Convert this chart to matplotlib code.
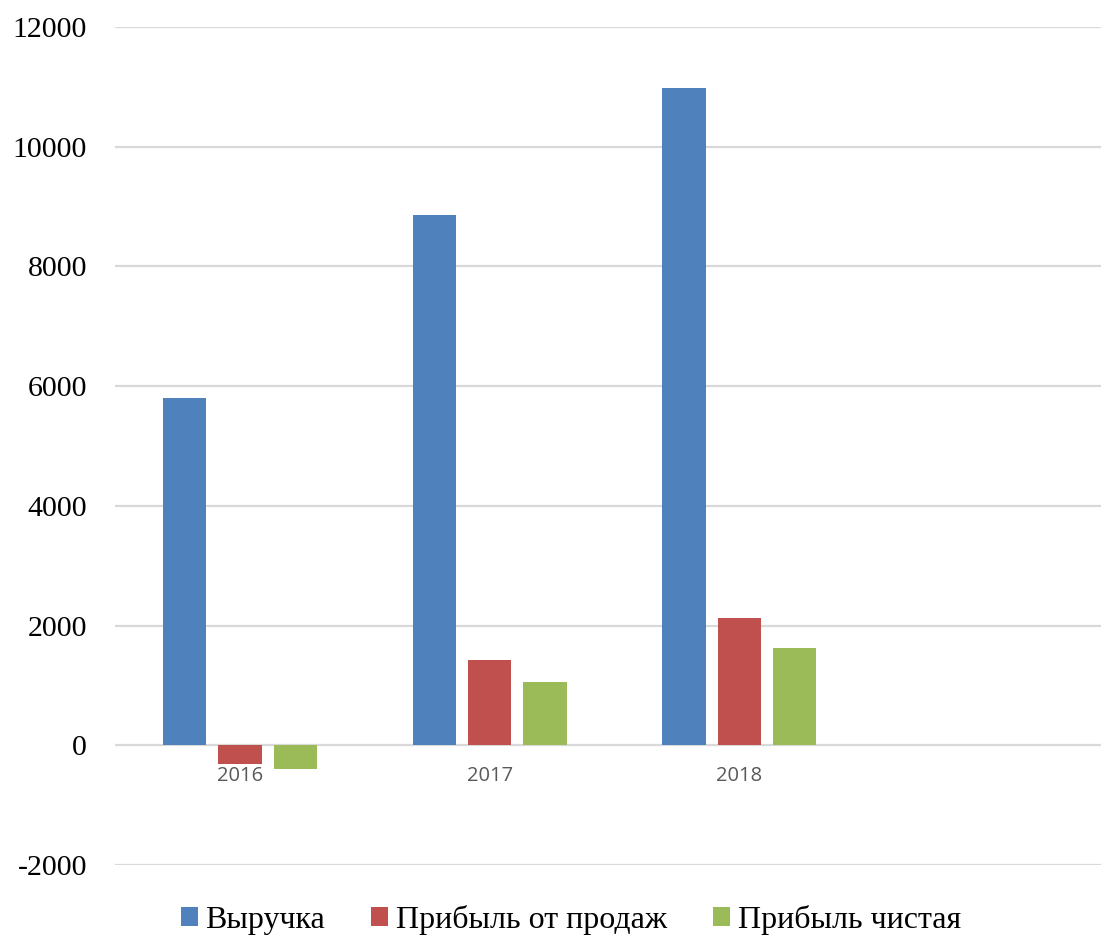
import matplotlib
matplotlib.use("Agg")
import matplotlib.pyplot as plt
from matplotlib.patches import Patch
import numpy as np

categories = ["2016", "2017", "2018", ""]
series_names = ["Выручка", "Прибыль от продаж", "Прибыль чистая"]
revenue = [5800, 8860, 10980, np.nan]
sales_profit = [-310, 1420, 2130, np.nan]
net_profit = [-395, 1050, 1620, np.nan]
y_ticks = [-2000, 0, 2000, 4000, 6000, 8000, 10000, 12000]

colors = ["#4F81BD", "#C0504D", "#9BBB59"]

fig = plt.figure(figsize=(11.01, 9.38), dpi=100)
ax = fig.add_axes([115/1101, 1-865/938, 1-115/1101, (865-27)/938])

x = np.arange(len(categories))
pitch = 0.2215
width = 0.1734
for i, (vals, c) in enumerate(zip([revenue, sales_profit, net_profit], colors)):
    ax.bar(x + (i-1)*pitch, vals, width=width, color=c, edgecolor="none", zorder=3)

ax.set_xlim(-0.5, 3.448)
ax.set_ylim(-2000, 12000)
ax.set_yticks(y_ticks)
ax.set_yticklabels([str(t) for t in y_ticks], family="Liberation Serif", fontsize=21.5, color="black")
ax.tick_params(axis="y", length=0, pad=20)
ax.grid(axis="y", color="#D9D9D9", linewidth=1.6, zorder=0)
ax.set_xticks([])
for s in ax.spines.values():
    s.set_visible(False)

for xi, lab in zip(x, categories):
    if lab:
        ax.text(xi, -520, lab, ha="center", va="center", fontsize=14.5,
                family="Open Sans", color="#595959")

handles = [Patch(facecolor=c, edgecolor="none") for c in colors]
fig.legend(handles, series_names, loc="center", bbox_to_anchor=(571/1101, 1-920/938),
           ncol=3, frameon=False, prop={"family": "Liberation Serif", "size": 23},
           handlelength=0.53, handleheight=0.53, handletextpad=0.25, columnspacing=1.44,
           borderpad=0, borderaxespad=0)

fig.savefig("out.png", dpi=100)
